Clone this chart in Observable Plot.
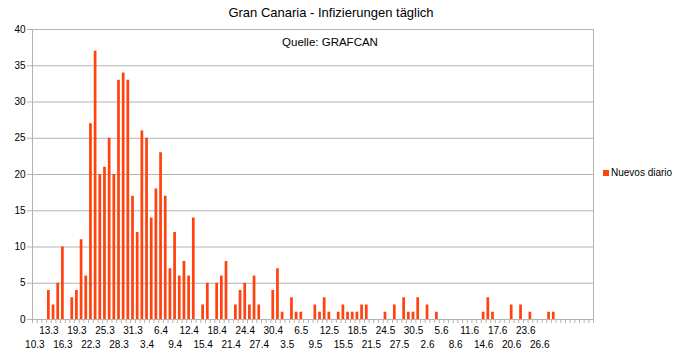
<!DOCTYPE html>
<html>
<head>
<meta charset="utf-8">
<script src="https://cdn.jsdelivr.net/npm/d3@7"></script>
<script src="https://cdn.jsdelivr.net/npm/@observablehq/plot@0.6"></script>
<style>
  html, body { margin: 0; padding: 0; background: #fff; }
  #wrap { position: relative; width: 678px; height: 356px; font-family: "Liberation Sans", Arial, sans-serif; color: #000; }
  #title { position: absolute; left: 0; width: 662px; top: 6px; text-align: center; font-size: 13px; line-height: 14px; }
  #sub { position: absolute; left: 0; width: 660px; top: 36px; text-align: center; font-size: 11.5px; line-height: 13px; }
  #legend { position: absolute; left: 603px; top: 167px; font-size: 10px; line-height: 12px; display: flex; align-items: center; }
  #legend .sw { width: 6px; height: 6px; background: #ff420e; margin-right: 2px; }
</style>
</head>
<body>
<div id="wrap">
  <div id="chart"></div>
  <div id="title">Gran Canaria - Infizierungen täglich</div>
  <div id="sub">Quelle: GRAFCAN</div>
  <div id="legend"><span class="sw"></span><span>Nuevos diario</span></div>
</div>
<script>
const dates = [
  "10.3","11.3","12.3","13.3","14.3","15.3","16.3","17.3","18.3","19.3","20.3","21.3","22.3","23.3","24.3","25.3","26.3","27.3","28.3","29.3","30.3","31.3",
  "1.4","2.4","3.4","4.4","5.4","6.4","7.4","8.4","9.4","10.4","11.4","12.4","13.4","14.4","15.4","16.4","17.4","18.4","19.4","20.4","21.4","22.4","23.4","24.4","25.4","26.4","27.4","28.4","29.4","30.4",
  "1.5","2.5","3.5","4.5","5.5","6.5","7.5","8.5","9.5","10.5","11.5","12.5","13.5","14.5","15.5","16.5","17.5","18.5","19.5","20.5","21.5","22.5","23.5","24.5","25.5","26.5","27.5","28.5","29.5","30.5","31.5",
  "1.6","2.6","3.6","4.6","5.6","6.6","7.6","8.6","9.6","10.6","11.6","12.6","13.6","14.6","15.6","16.6","17.6","18.6","19.6","20.6","21.6","22.6","23.6","24.6","25.6","26.6","27.6","28.6","29.6","30.6",
  "1.7","2.7","3.7","4.7","5.7","6.7","7.7"
];
const nuevosDiario = [
  0,0,0,4,2,5,10,0,3,4,11,6,27,37,20,21,25,20,33,34,33,17,
  12,26,25,14,18,23,17,7,12,6,8,6,14,0,2,5,0,5,6,8,0,2,4,5,2,6,2,0,0,4,
  7,1,0,3,1,1,0,0,2,1,3,1,0,1,2,1,1,1,2,2,0,0,0,1,0,2,0,3,1,1,3,
  0,2,0,1,0,0,0,0,0,0,0,0,0,1,3,1,0,0,0,2,0,2,0,1,0,0,0,1,1,0,
  0,0,0,0,0,0,0
];
const topLabels = ["13.3","19.3","25.3","31.3","6.4","12.4","18.4","24.4","30.4","6.5","12.5","18.5","24.5","30.5","5.6","11.6","17.6","23.6"];
const bottomLabels = ["10.3","16.3","22.3","28.3","3.4","9.4","15.4","21.4","27.4","3.5","9.5","15.5","21.5","27.5","2.6","8.6","14.6","20.6","26.6"];
const yTicks = [0,5,10,15,20,25,30,35,40];

const rows = dates.map((d, i) => ({date: d, value: nuevosDiario[i]}));
const marginLeft = 32, marginRight = 85;
const step = (678 - marginLeft - marginRight) / dates.length;
const grey = "#b3b3b3";

const chart = Plot.plot({
  width: 678,
  height: 356,
  marginLeft, marginRight,
  marginTop: 29,
  marginBottom: 37,
  style: {fontFamily: "'Liberation Sans', Arial, sans-serif", fontSize: "10px", color: "#000", background: "#fff"},
  x: {type: "band", domain: dates, paddingInner: 0.42, paddingOuter: 0.21, axis: null},
  y: {domain: [0, 40], axis: null},
  marks: [
    Plot.gridY(yTicks, {stroke: grey, strokeOpacity: 1}),
    Plot.frame({stroke: grey}),
    Plot.barY(rows, {x: "date", y: "value", fill: "#ff420e"}),
    Plot.axisY(yTicks, {tickSize: 5, tickPadding: 2, stroke: grey, fill: "#000", label: null}),
    Plot.axisX(dates, {tickSize: 4, tickFormat: () => "", dx: -step / 2, stroke: grey, label: null}),
    Plot.axisX([dates[dates.length - 1]], {tickSize: 4, tickFormat: () => "", dx: step / 2, stroke: grey, label: null}),
    Plot.text(topLabels, {x: d => d, frameAnchor: "bottom", dy: 14, fill: "#000"}),
    Plot.text(bottomLabels, {x: d => d, frameAnchor: "bottom", dy: 28, fill: "#000"})
  ]
});
document.getElementById("chart").appendChild(chart);
</script>
</body>
</html>
